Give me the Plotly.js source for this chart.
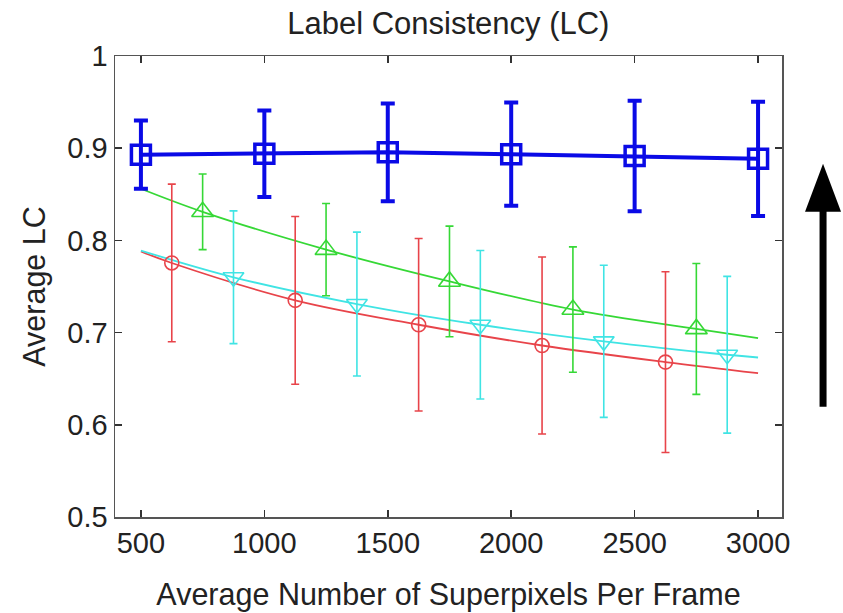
<!DOCTYPE html>
<html>
<head>
<meta charset="utf-8">
<script src="https://cdn.plot.ly/plotly-3.0.1.min.js"></script>
<style>html,body{margin:0;padding:0;background:#fff;}#chart{width:843px;height:613px;}</style>
</head>
<body>
<div id="chart"></div>
<script>
// Blue (squares)
var xBlue = [500, 1000, 1500, 2000, 2500, 3000];
var yBlue = [0.893, 0.894, 0.8955, 0.8935, 0.8915, 0.8885];
var eBlue = [0.037, 0.047, 0.053, 0.056, 0.060, 0.062];
// Red (circles)
var xRed = [625, 1125, 1625, 2125, 2625];
var yRed = [0.7755, 0.735, 0.7085, 0.686, 0.668];
var eRed = [0.0855, 0.091, 0.0935, 0.096, 0.098];
var xRedFit = [500, 625, 1125, 1625, 2125, 2625, 3000];
var yRedFit = [0.788, 0.7755, 0.735, 0.7085, 0.686, 0.668, 0.656];
// Green (triangles up)
var xGreen = [750, 1250, 1750, 2250, 2750];
var yGreen = [0.831, 0.790, 0.7555, 0.725, 0.704];
var eGreen = [0.041, 0.050, 0.060, 0.068, 0.071];
var xGreenFit = [500, 750, 1250, 1750, 2250, 2750, 3000];
var yGreenFit = [0.856, 0.831, 0.790, 0.7555, 0.725, 0.704, 0.694];
// Cyan (triangles down)
var xCyan = [875, 1375, 1875, 2375, 2875];
var yCyan = [0.760, 0.731, 0.7085, 0.6905, 0.676];
var eCyan = [0.072, 0.078, 0.0805, 0.0825, 0.085];
var xCyanFit = [500, 875, 1375, 1875, 2375, 2875, 3000];
var yCyanFit = [0.789, 0.760, 0.731, 0.7085, 0.6905, 0.676, 0.673];

var xTicks = [500, 1000, 1500, 2000, 2500, 3000];
var xTickText = ['500', '1000', '1500', '2000', '2500', '3000'];
var yTicks = [0.5, 0.6, 0.7, 0.8, 0.9, 1];
var yTickText = ['0.5', '0.6', '0.7', '0.8', '0.9', '1'];

var cRed = '#e8444a', cGreen = '#36d836', cCyan = '#40e4e4', cBlue = '#0a0ae6';

function fit(x, y, c) {
  return {x: x, y: y, mode: 'lines', line: {color: c, width: 1.8, shape: 'spline'}, hoverinfo: 'skip', showlegend: false};
}
function pts(x, y, e, c, sym, size) {
  return {x: x, y: y, mode: 'markers', showlegend: false,
    marker: {symbol: sym, size: size, color: c, line: {color: c, width: 1.6}},
    error_y: {type: 'data', array: e, visible: true, color: c, thickness: 1.6, width: 4}};
}

var traces = [
  fit(xRedFit, yRedFit, cRed),
  fit(xCyanFit, yCyanFit, cCyan),
  fit(xGreenFit, yGreenFit, cGreen),
  pts(xRed, yRed, eRed, cRed, 'circle-open', 14),
  pts(xGreen, yGreen, eGreen, cGreen, 'triangle-up-open', 19),
  pts(xCyan, yCyan, eCyan, cCyan, 'triangle-down-open', 18),
  {x: xBlue, y: yBlue, mode: 'lines+markers', showlegend: false,
   line: {color: cBlue, width: 4},
   marker: {symbol: 'square-open', size: 19, color: cBlue, line: {color: cBlue, width: 3.5}},
   error_y: {type: 'data', array: eBlue, visible: true, color: cBlue, thickness: 4, width: 7}}
];

var fam = 'Liberation Sans, Arial, sans-serif';
var layout = {
  width: 843, height: 613,
  margin: {l: 115, r: 61, t: 56, b: 96},
  paper_bgcolor: '#fff', plot_bgcolor: '#fff',
  font: {family: fam, size: 29, color: '#222'},
  showlegend: false,
  title: {text: 'Label Consistency (LC)', font: {family: fam, size: 31, color: '#222'}, x: 0.5318, xanchor: 'center', y: 0.963, yanchor: 'middle'},
  xaxis: {range: [395, 3097], tickvals: xTicks, ticktext: xTickText, ticks: 'inside', ticklen: 7, tickwidth: 1.5, tickcolor: '#333',
    tickfont: {size: 29},
    showline: true, linecolor: '#555', linewidth: 1.5, mirror: 'ticks', showgrid: false, zeroline: false,
    title: {text: 'Average Number of Superpixels Per Frame', font: {size: 30.5, color: '#222'}, standoff: 25}},
  yaxis: {range: [0.5, 1.0], tickvals: yTicks, ticktext: yTickText, ticks: 'inside', ticklen: 7, tickwidth: 1.5, tickcolor: '#333',
    tickfont: {size: 29},
    showline: true, linecolor: '#555', linewidth: 1.5, mirror: 'ticks', showgrid: false, zeroline: false,
    title: {text: 'Average LC', font: {size: 30.5, color: '#222'}, standoff: 12}},
  shapes: [
    {type: 'rect', xref: 'paper', yref: 'paper', x0: 1.0563, x1: 1.0668, y0: 0.239, y1: 0.67, fillcolor: '#000', line: {width: 0}},
    {type: 'path', xref: 'paper', yref: 'paper', path: 'M 1.0345 0.662 L 1.0885 0.662 L 1.0615 0.766 Z', fillcolor: '#000', line: {width: 0}}
  ]
};

Plotly.newPlot('chart', traces, layout, {displayModeBar: false, staticPlot: true});
</script>
</body>
</html>
